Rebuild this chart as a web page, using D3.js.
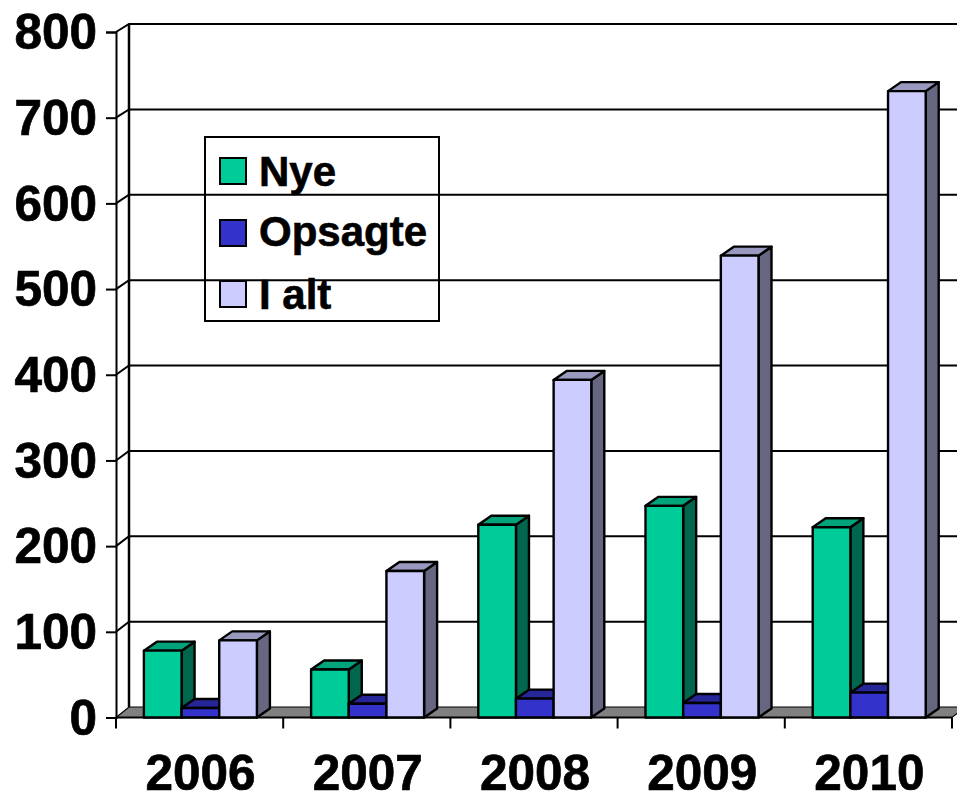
<!DOCTYPE html>
<html>
<head>
<meta charset="utf-8">
<script src="https://cdn.jsdelivr.net/npm/d3@7"></script>
<style>
  html, body { margin: 0; padding: 0; background: #fff; overflow: hidden; }
  svg { display: block; font-family: "Liberation Sans", Arial, sans-serif; font-weight: bold; }
</style>
</head>
<body>
<div id="chart"></div>
<script>
var years = ["2006", "2007", "2008", "2009", "2010"];
var nye = [78, 56, 225, 247, 222];
var opsagte = [11, 16, 22, 17, 29];
var iAlt = [90, 171, 394, 539, 731];
var yTicks = [0, 100, 200, 300, 400, 500, 600, 700, 800];
var seriesNames = ["Nye", "Opsagte", "I alt"];
var seriesValues = [nye, opsagte, iAlt];

var width = 957, height = 793;
var depthX = 13, barDepthY = -9;
var palette = [
  { front: "#00cc99", top: "#00a37a", side: "#00664d" },
  { front: "#3333cc", top: "#262699", side: "#1a1a66" },
  { front: "#ccccff", top: "#9999bf", side: "#666680" }
];

var svg = d3.select("#chart").append("svg")
  .attr("width", width)
  .attr("height", height);

var y = d3.scaleLinear().domain([0, 800]).range([717.5, 32]);
// back wall runs on a slightly shorter scale than the front axis
var yBack = d3.scaleLinear().domain([0, 800]).range([707, 24]);
var x = d3.scaleBand().domain(years).range([116, 952]);
var groupWidth = 113;
var x1 = d3.scaleBand().domain(d3.range(3))
  .range([(x.bandwidth() - groupWidth) / 2 + 0.8, (x.bandwidth() + groupWidth) / 2 + 0.8]);

function poly(points) {
  return points.map(function (p) { return p.join(","); }).join(" ");
}

// ── Walls and floor ────────────────────────────────────────

svg.append("polygon")
  .attr("points", poly([
    [116, y(0)], [116 + depthX, yBack(0)],
    [952 + depthX, yBack(0)], [952, y(0)]
  ]))
  .attr("fill", "#808080")
  .attr("stroke", "#000")
  .attr("stroke-width", 1.2);

var grid = svg.append("g");
yTicks.slice(1).forEach(function (t) {
  grid.append("polyline")
    .attr("points", poly([
      [116, y(t)], [116 + depthX, yBack(t)], [952 + depthX, yBack(t)]
    ]))
    .attr("fill", "none")
    .attr("stroke", "#000")
    .attr("stroke-width", 2);
});

svg.append("line")
  .attr("x1", 116 + depthX).attr("x2", 116 + depthX)
  .attr("y1", yBack(800)).attr("y2", yBack(0))
  .attr("stroke", "#000").attr("stroke-width", 2.5);

// ── Axes ───────────────────────────────────────────────────

var yAxis = svg.append("g")
  .attr("transform", "translate(116,0)")
  .call(d3.axisLeft(y).tickValues(yTicks).tickSize(10).tickPadding(9).tickFormat(d3.format("d")));
yAxis.selectAll("line").attr("stroke", "#000").attr("stroke-width", 2);
yAxis.select(".domain").attr("stroke", "#000").attr("stroke-width", 2);
yAxis.selectAll("text")
  .attr("fill", "#000")
  .attr("font-size", 49.5)
  .attr("font-family", "Liberation Sans")
  .attr("font-weight", "bold")
  .attr("stroke", "#000")
  .attr("stroke-width", 0.7)
  .attr("dy", "0.34em");

var xAxis = svg.append("g");
xAxis.append("line")
  .attr("x1", 116).attr("x2", 952)
  .attr("y1", y(0)).attr("y2", y(0))
  .attr("stroke", "#000").attr("stroke-width", 2);
years.concat(["end"]).forEach(function (d, i) {
  var tx = 116 + i * x.step();
  xAxis.append("line")
    .attr("x1", tx).attr("x2", tx)
    .attr("y1", y(0)).attr("y2", y(0) + 11)
    .attr("stroke", "#000").attr("stroke-width", 2);
});
xAxis.selectAll("text.year")
  .data(years)
  .enter().append("text")
  .attr("class", "year")
  .attr("x", function (d) { return x(d) + x.bandwidth() / 2 + 1; })
  .attr("y", 790)
  .attr("text-anchor", "middle")
  .attr("font-size", 49.5)
  .attr("stroke", "#000")
  .attr("stroke-width", 0.7)
  .text(function (d) { return d; });

// ── Bars ───────────────────────────────────────────────────

var bars = svg.append("g")
  .attr("stroke", "#000")
  .attr("stroke-width", 2.4)
  .attr("stroke-linejoin", "round");

years.forEach(function (year, c) {
  seriesValues.forEach(function (values, s) {
    var left = x(year) + x1(s);
    var right = left + x1.bandwidth();
    var top = y(values[c]);
    var base = y(0);
    var col = palette[s];

    bars.append("polygon")
      .attr("points", poly([
        [right, base], [right + depthX, base + barDepthY],
        [right + depthX, top + barDepthY], [right, top]
      ]))
      .attr("fill", col.side);
    bars.append("polygon")
      .attr("points", poly([
        [left, top], [left + depthX, top + barDepthY],
        [right + depthX, top + barDepthY], [right, top]
      ]))
      .attr("fill", col.top);
    bars.append("rect")
      .attr("x", left).attr("y", top)
      .attr("width", right - left).attr("height", base - top)
      .attr("fill", col.front);
  });
});

// ── Legend ─────────────────────────────────────────────────

var legend = svg.append("g");
legend.append("rect")
  .attr("x", 205).attr("y", 137)
  .attr("width", 234).attr("height", 184)
  .attr("fill", "none")
  .attr("stroke", "#000")
  .attr("stroke-width", 2);

var legendSwatchY = [158, 220, 281];
var legendTextY = [186, 246, 309];
seriesNames.forEach(function (name, i) {
  legend.append("rect")
    .attr("x", 220).attr("y", legendSwatchY[i])
    .attr("width", 26).attr("height", 26)
    .attr("fill", palette[i].front)
    .attr("stroke", "#000")
    .attr("stroke-width", 2);
  legend.append("text")
    .attr("x", 259).attr("y", legendTextY[i])
    .attr("font-size", 42)
    .attr("stroke", "#000")
    .attr("stroke-width", 0.6)
    .text(name);
});
</script>
</body>
</html>
